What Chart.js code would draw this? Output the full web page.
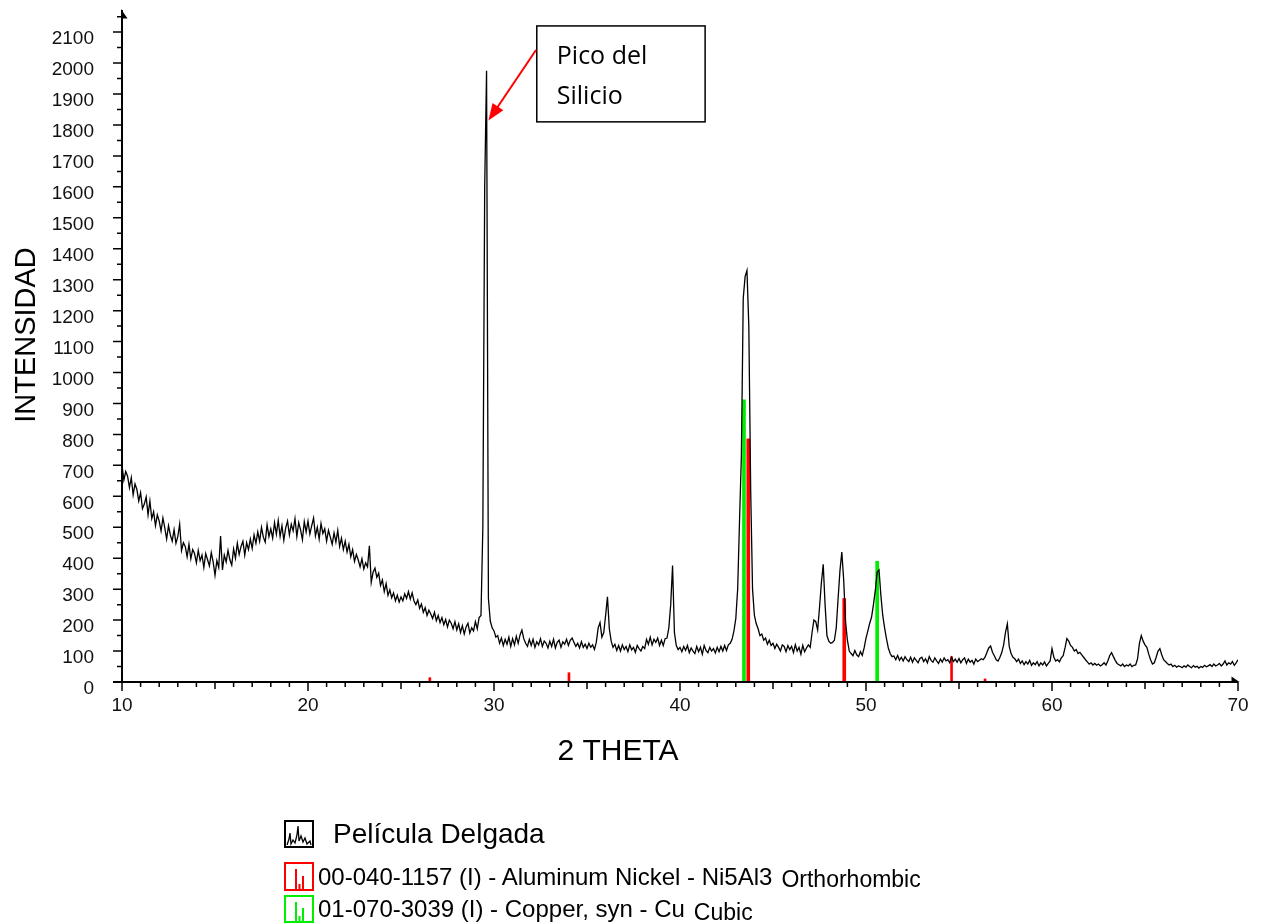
<!DOCTYPE html>
<html>
<head>
<meta charset="utf-8">
<script src="https://cdn.jsdelivr.net/npm/chart.js@4.4.1/dist/chart.umd.min.js"></script>
<style>
  body { margin: 0; background: #fff; }
  #wrap { position: relative; width: 1261px; height: 924px; }
  #xrd { position: absolute; left: 0; top: 0; }
  .leg { position: absolute; left: 284px; display: flex; align-items: center;
         font-family: "Liberation Sans", Arial, sans-serif; color: #000; white-space: nowrap; }
  .leg svg { display: block; flex: none; }
  .big { font-size: 28px; margin-left: 19px; }
  .small { font-size: 24px; margin-left: 4px; }
  .tail { font-size: 23px; margin-left: 9px; position: relative; top: 3px; }
</style>
</head>
<body>
<div id="wrap">
  <canvas id="xrd" width="1261" height="924"></canvas>

  <div class="leg" style="top:820px;height:28px">
    <svg width="30" height="28"><rect x="1" y="1" width="28" height="26" fill="none" stroke="#000" stroke-width="2"/>
      <polyline points="3,25 5,19 6,13 7,24 9,20 11,23 13,15 14,6 15,21 17,16 19,22 21,18 23,24 26,21 27,25" fill="none" stroke="#000" stroke-width="1.3"/></svg>
    <span class="big">Película Delgada</span>
  </div>
  <div class="leg" style="top:862px;height:29px">
    <svg width="30" height="29"><rect x="1" y="1" width="28" height="27" fill="none" stroke="#ff0000" stroke-width="2"/>
      <path d="M12 27V7M15.5 27V22M19 27V14" stroke="#ff0000" stroke-width="2"/></svg>
    <span class="small">00-040-1157 (I) - Aluminum Nickel - Ni5Al3</span><span class="tail">Orthorhombic</span>
  </div>
  <div class="leg" style="top:895px;height:28px">
    <svg width="30" height="28"><rect x="1" y="1" width="28" height="26" fill="none" stroke="#00ee00" stroke-width="2"/>
      <path d="M12 26V7M15.5 26V21M19 26V13" stroke="#00ee00" stroke-width="2"/></svg>
    <span class="small">01-070-3039 (I) - Copper, syn - Cu</span><span class="tail">Cubic</span>
  </div>
</div>

<script>
// scan grid of the diffractogram (degrees 2theta)
const scanStart = 10;
const scanStep = 0.1;

// intensity, one value per 0.1 degree
const counts10 = [
  700, 652, 680, 665, 628, 660, 605, 640, 622, 585,
  612, 560, 575, 598, 540, 585, 528, 550, 505, 540,
  520, 488, 530, 498, 462, 505, 475, 455, 492, 448,
  470, 510, 425, 450, 438, 405, 445, 398, 428, 415,
  385, 425, 392, 410, 370, 415, 395, 375, 418, 388,
  345, 392, 370, 472, 362, 410, 388, 425, 395, 378,
  430, 400, 448, 412, 438, 455, 410, 450, 428, 462,
  432, 475, 448, 485, 455, 500, 468, 452, 508, 470,
  495, 465, 515, 478, 522, 470, 505, 458, 498, 520,
  475, 510, 488, 528, 470, 515, 492, 460, 518, 485
];
const counts20 = [
  520, 478, 505, 530, 472, 500, 462, 512, 480, 495,
  455, 490, 468, 445, 482, 452, 490, 438, 465, 428,
  455, 420, 445, 405, 428, 390, 412, 395, 372, 398,
  365, 385, 372, 440, 322, 355, 368, 338, 352, 312,
  330, 292, 318, 280, 298, 272, 288, 262, 280, 258,
  275, 262, 285, 270, 292, 268, 288, 262, 250, 265,
  238, 252, 225, 240, 215, 232, 220, 205, 225, 198,
  215, 192, 208, 185, 202, 178, 200, 190, 172, 195,
  168, 188, 160, 182, 155, 178, 190, 158, 175, 165,
  195, 172, 208, 215, 500, 1600, 1975, 270, 197, 175
];
const counts30 = [
  165, 145, 150, 125, 142, 118, 138, 122, 145, 115,
  140, 120, 148, 125, 152, 168, 140, 125, 115, 138,
  118, 138, 112, 130, 120, 140, 115, 132, 125, 110,
  132, 115, 138, 110, 128, 135, 112, 130, 122, 138,
  118, 135, 142, 128, 115, 125, 110, 130, 112, 122,
  108, 125, 112, 120, 105, 128, 175, 192, 145, 160,
  215, 275, 172, 132, 112, 122, 102, 118, 100, 120,
  105, 115, 98, 120, 104, 112, 96, 118, 108, 100,
  115, 108, 138, 122, 145, 120, 138, 128, 142, 118,
  135, 118, 140, 142, 175, 250, 376, 160, 118, 105
];
const counts40 = [
  112, 98, 115, 102, 118, 95, 110, 100, 92, 115,
  98, 112, 90, 118, 102, 95, 112, 100, 108, 94,
  112, 98, 115, 100, 118, 102, 120, 125, 138, 165,
  205, 300, 520, 730, 1240, 1310, 1330, 1150, 620, 300,
  215, 188, 172, 150, 155, 135, 142, 122, 135, 118,
  125, 108, 122, 112, 100, 120, 115, 98, 118, 105,
  115, 95, 120, 100, 112, 90, 118, 98, 110, 120,
  112, 160, 200, 195, 168, 240, 320, 380, 250, 150,
  132, 125, 128, 135, 175, 270, 360, 420, 330, 195,
  135, 100, 92, 85, 102, 88, 82, 98, 86, 110
];
const counts50 = [
  142, 165, 190, 210, 250, 295, 355, 362, 280, 215,
  175, 140, 110, 92, 82, 84, 72, 86, 70, 80,
  68, 82, 72, 66, 80, 64, 78, 70, 62, 76,
  80, 66, 75, 62, 82, 70, 64, 78, 68, 60,
  74, 64, 78, 68, 72, 62, 80, 66, 74, 64,
  76, 62, 72, 78, 60, 74, 64, 70, 58, 74,
  66, 70, 75, 72, 80, 95, 110, 116, 96, 85,
  72, 68, 80, 95, 120, 160, 188, 115, 92, 80,
  75, 66, 74, 60, 68, 56, 66, 58, 70, 54,
  62, 56, 66, 52, 62, 55, 65, 52, 60, 68
];
const counts60 = [
  108, 80, 68, 72, 65, 78, 85, 110, 140, 132,
  118, 112, 100, 105, 92, 96, 88, 80, 72, 65,
  58, 62, 55, 60, 54, 58, 52, 56, 62, 55,
  68, 85, 95, 82, 70, 60, 56, 52, 58, 50,
  55, 52, 58, 50, 54, 55, 75, 125, 150, 132,
  120, 112, 90, 72, 58, 62, 80, 100, 108, 88,
  72, 66, 60, 55, 58, 50, 54, 48, 52, 50,
  46, 52, 48, 55, 50, 46, 53, 48, 51, 45,
  50, 47, 54, 49, 52, 56, 50, 58, 52, 55,
  60, 52, 58, 68, 55, 62, 58, 66, 54, 62,
  72
];

// reference patterns (stick positions and heights)
const niAlAngles  = [26.55, 34.03, 43.67, 48.83, 54.6, 56.4];
const niAlHeights = [14, 30, 786, 270, 82, 10];
const cuAngles    = [43.44, 50.6];
const cuHeights   = [912, 390];

const xTicks = [10, 20, 30, 40, 50, 60, 70];
const yTicks = [0, 100, 200, 300, 400, 500, 600, 700, 800, 900, 1000,
                1100, 1200, 1300, 1400, 1500, 1600, 1700, 1800, 1900, 2000, 2100];

const spectrum = [].concat(counts10, counts20, counts30, counts40, counts50, counts60)
  .map((c, i) => ({ x: +(scanStart + i * scanStep).toFixed(2), y: c }));
const niAl = niAlAngles.map((a, i) => ({ x: a, y: niAlHeights[i] }));
const cu = cuAngles.map((a, i) => ({ x: a, y: cuHeights[i] }));

Chart.defaults.font.family = '"Liberation Sans", Arial, sans-serif';

// axis lines, arrows, minor ticks, titles and the callout
const axisDecor = {
  id: 'axisDecor',
  afterDraw(chart) {
    const { ctx, chartArea: a, scales: { x, y } } = chart;
    ctx.save();
    ctx.strokeStyle = '#000';
    ctx.fillStyle = '#000';

    ctx.lineWidth = 2;
    ctx.beginPath();
    ctx.moveTo(a.left, a.bottom);
    ctx.lineTo(a.left, a.top - 2);
    ctx.moveTo(a.left - 9, a.bottom);
    ctx.lineTo(a.right, a.bottom);
    ctx.stroke();

    // arrow heads
    ctx.beginPath();
    ctx.moveTo(a.left - 1, a.top - 3);
    ctx.lineTo(a.left + 5.5, a.top + 6.5);
    ctx.lineTo(a.left - 1, a.top + 6.5);
    ctx.fill();
    ctx.beginPath();
    ctx.moveTo(a.right - 6.5, a.bottom - 5.5);
    ctx.lineTo(a.right + 1.5, a.bottom);
    ctx.lineTo(a.right - 6.5, a.bottom);
    ctx.fill();

    ctx.lineWidth = 1.5;
    ctx.beginPath();
    for (let v = 0; v <= 2150; v += 50) {
      const py = y.getPixelForValue(v);
      const len = v % 100 === 0 ? 9 : 5;
      ctx.moveTo(a.left - len, py);
      ctx.lineTo(a.left, py);
    }
    for (let t = 10; t <= 70; t++) {
      const px = x.getPixelForValue(t);
      const len = t % 10 === 0 ? 9 : (t % 5 === 0 ? 7 : 5);
      ctx.moveTo(px, a.bottom);
      ctx.lineTo(px, a.bottom + len);
    }
    ctx.stroke();

    // axis titles
    ctx.textAlign = 'center';
    ctx.textBaseline = 'middle';
    ctx.font = '30px "Liberation Sans", Arial, sans-serif';
    ctx.fillText('2 THETA', 618, 752);
    ctx.save();
    ctx.translate(27, 335);
    ctx.rotate(-Math.PI / 2);
    ctx.font = '29px "Liberation Sans", Arial, sans-serif';
    ctx.fillText('INTENSIDAD', 0, 0);
    ctx.restore();

    // callout box
    const bx0 = x.getPixelForValue(32.3), bx1 = x.getPixelForValue(41.35);
    const by0 = y.getPixelForValue(2120), by1 = y.getPixelForValue(1810);
    ctx.fillStyle = '#fff';
    ctx.fillRect(bx0, by0, bx1 - bx0, by1 - by0);
    ctx.lineWidth = 1.5;
    ctx.strokeRect(bx0, by0, bx1 - bx0, by1 - by0);
    ctx.fillStyle = '#000';
    ctx.textAlign = 'left';
    ctx.textBaseline = 'alphabetic';
    ctx.font = '25px "Open Sans", "Noto Sans", sans-serif';
    ctx.fillText('Pico del', bx0 + 20, by0 + 38);
    ctx.fillText('Silicio', bx0 + 20, by0 + 78);

    // red arrow to the silicon peak
    const sx = x.getPixelForValue(32.26), sy = y.getPixelForValue(2042);
    const tx = x.getPixelForValue(29.7), ty = y.getPixelForValue(1814);
    const ang = Math.atan2(ty - sy, tx - sx);
    ctx.strokeStyle = '#ff0000';
    ctx.fillStyle = '#ff0000';
    ctx.lineWidth = 2;
    ctx.beginPath();
    ctx.moveTo(sx, sy);
    ctx.lineTo(tx - 14 * Math.cos(ang), ty - 14 * Math.sin(ang));
    ctx.stroke();
    ctx.beginPath();
    ctx.moveTo(tx, ty);
    ctx.lineTo(tx - 17 * Math.cos(ang) + 6.5 * Math.sin(ang), ty - 17 * Math.sin(ang) - 6.5 * Math.cos(ang));
    ctx.lineTo(tx - 17 * Math.cos(ang) - 6.5 * Math.sin(ang), ty - 17 * Math.sin(ang) + 6.5 * Math.cos(ang));
    ctx.closePath();
    ctx.fill();

    ctx.restore();
  }
};

function stickSet(label, data, color, thickness, order) {
  return { type: 'bar', label: label, data: data, backgroundColor: color, borderWidth: 0,
           barThickness: thickness, grouped: false, order: order };
}

new Chart(document.getElementById('xrd'), {
  type: 'line',
  data: {
    datasets: [
      {
        label: 'Película Delgada',
        data: spectrum,
        borderColor: '#000',
        borderWidth: 1.3,
        pointRadius: 0,
        tension: 0,
        fill: false,
        order: 0
      },
      stickSet('00-040-1157 (I) - Aluminum Nickel - Ni5Al3', niAl.filter(p => p.y >= 100), '#ff0000', 3, 1),
      stickSet('00-040-1157 (I) - Aluminum Nickel - Ni5Al3', niAl.filter(p => p.y < 100), '#ff0000', 2, 1),
      stickSet('01-070-3039 (I) - Copper, syn - Cu', cu, '#00ee00', 3, 2)
    ]
  },
  options: {
    responsive: false,
    animation: false,
    layout: { padding: { left: 0, top: 12, right: 23, bottom: 0 } },
    plugins: { legend: { display: false }, tooltip: { enabled: false } },
    scales: {
      x: {
        type: 'linear',
        min: 10,
        max: 70,
        offset: false,
        grid: { display: false, drawTicks: false },
        border: { display: false },
        ticks: { padding: 12, color: '#111', font: { size: 19 }, maxRotation: 0, autoSkip: false,
                 callback: v => String(v) },
        afterBuildTicks: s => { s.ticks = xTicks.map(v => ({ value: v })); },
        afterFit: s => { s.height = 242; s.paddingLeft = 0; s.paddingRight = 0; }
      },
      y: {
        type: 'linear',
        min: 0,
        max: 2165,
        grid: { display: false, drawTicks: false },
        border: { display: false },
        ticks: { padding: 28, labelOffset: 7, color: '#111', font: { size: 19 }, autoSkip: false,
                 callback: v => String(v) },
        afterBuildTicks: s => { s.ticks = yTicks.map(v => ({ value: v })); },
        afterFit: s => { s.width = 122; s.paddingTop = 0; s.paddingBottom = 0; }
      }
    }
  },
  plugins: [axisDecor]
});
</script>
</body>
</html>
